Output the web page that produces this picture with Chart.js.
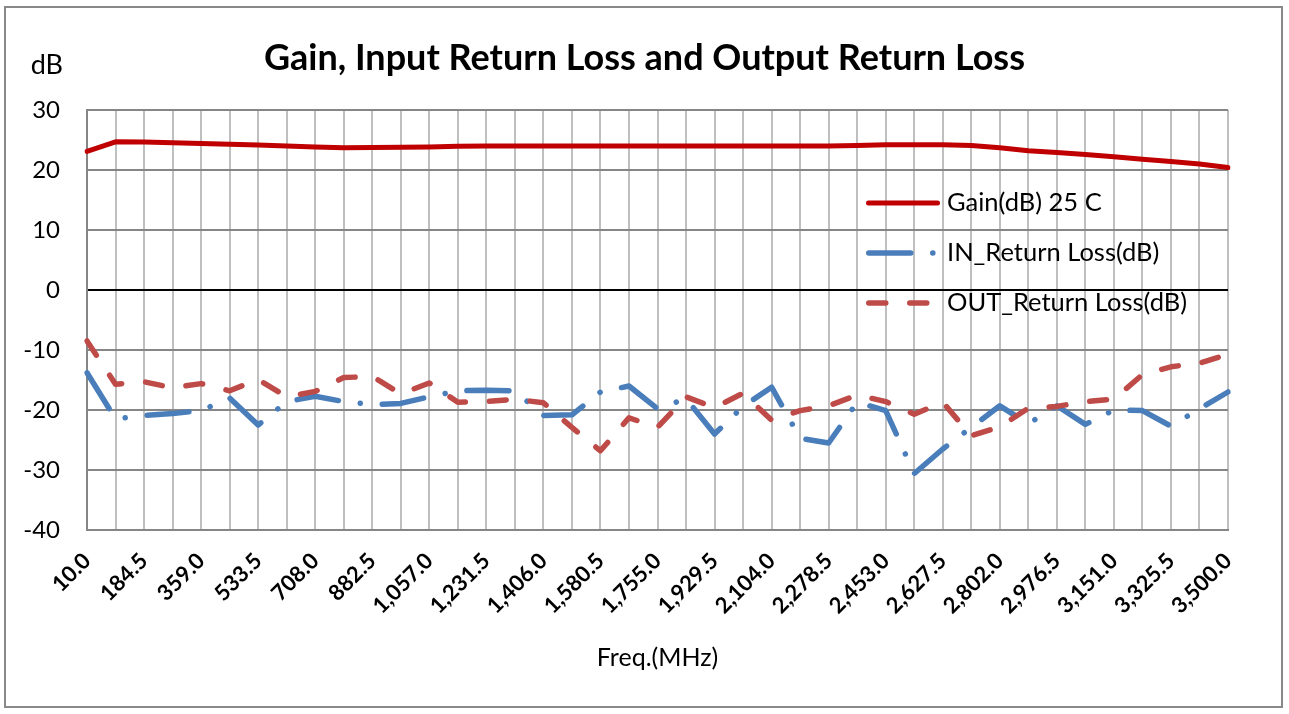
<!DOCTYPE html>
<html>
<head>
<meta charset="utf-8">
<script src="https://cdn.jsdelivr.net/npm/chart.js@4.4.1/dist/chart.umd.min.js"></script>
<style>
  html, body { margin: 0; padding: 0; background: #ffffff; }
  #wrap { width: 1289px; height: 714px; position: relative; }
  canvas { display: block; }
</style>
</head>
<body>
<div id="wrap"><canvas id="c" width="1289" height="714"></canvas></div>
<script>
// ---- Data ----
const freqMHz = [10.0, 97.25, 184.5, 271.75, 359.0, 446.25, 533.5, 620.75, 708.0, 795.25,
  882.5, 969.75, 1057.0, 1144.25, 1231.5, 1318.75, 1406.0, 1493.25, 1580.5, 1667.75,
  1755.0, 1842.25, 1929.5, 2016.75, 2104.0, 2191.25, 2278.5, 2365.75, 2453.0, 2540.25,
  2627.5, 2714.75, 2802.0, 2889.25, 2976.5, 3063.75, 3151.0, 3238.25, 3325.5, 3412.75, 3500.0];

const gainDb = [23.1, 24.7, 24.65, 24.55, 24.4, 24.3, 24.15, 24.0, 23.85, 23.7,
  23.75, 23.8, 23.85, 23.95, 24.0, 24.0, 24.0, 24.0, 24.0, 24.0,
  24.0, 24.0, 24.0, 24.0, 24.0, 24.0, 24.0, 24.1, 24.2, 24.2,
  24.2, 24.1, 23.7, 23.2, 22.9, 22.6, 22.2, 21.8, 21.4, 21.0, 20.4];

const inReturnLossDb = [-13.8, -21.5, -20.9, -20.6, -20.1, -18.0, -22.5, -18.6, -17.7, -18.6,
  -19.1, -18.9, -17.8, -16.8, -16.7, -16.8, -20.9, -20.8, -17.0, -16.0,
  -19.8, -18.1, -24.0, -19.4, -16.2, -24.7, -25.5, -18.7, -20.1, -30.6,
  -26.5, -22.9, -19.3, -22.3, -19.3, -22.4, -20.0, -20.1, -22.7, -19.8, -17.0];

const outReturnLossDb = [-8.5, -15.7, -15.3, -16.3, -15.6, -16.8, -14.9, -17.8, -16.9, -14.6,
  -14.4, -17.3, -15.5, -18.7, -18.6, -18.2, -18.8, -22.9, -26.8, -21.3,
  -22.9, -17.8, -19.6, -17.2, -21.7, -20.1, -19.3, -17.5, -18.6, -20.7,
  -18.7, -24.3, -22.8, -19.7, -19.4, -18.6, -18.2, -14.1, -12.8, -12.2, -10.7];

const seriesNames = ['Gain(dB) 25 C', 'IN_Return Loss(dB)', 'OUT_Return Loss(dB)'];
const chartTitle = 'Gain, Input Return Loss and Output Return Loss';
const xAxisTitle = 'Freq.(MHz)';
const yUnitLabel = 'dB';
const yMin = -40, yMax = 30, yStep = 10;

// ---- Helpers ----
const FONT = 'Lato, "Open Sans", "DejaVu Sans", sans-serif';
function fmtFreq(v) {
  return v.toLocaleString('en-US', { minimumFractionDigits: 1, maximumFractionDigits: 1 });
}

const framePlugin = {
  id: 'frame',
  beforeDraw(chart) {
    const ctx = chart.ctx;
    ctx.save();
    ctx.fillStyle = '#ffffff';
    ctx.fillRect(0, 0, chart.width, chart.height);
    ctx.strokeStyle = '#898989';
    ctx.lineWidth = 2;
    ctx.strokeRect(5, 7, 1277, 700);
    ctx.restore();
  },
  afterDraw(chart) {
    const ctx = chart.ctx;
    ctx.save();
    // unit label
    ctx.font = '27px ' + FONT;
    ctx.fillStyle = '#000';
    ctx.textAlign = 'right';
    ctx.textBaseline = 'middle';
    ctx.fillText(yUnitLabel, 63, 65);
    // legend inside plot area
    const rows = [203, 253, 303];
    chart.data.datasets.forEach((ds, i) => {
      const y = rows[i];
      const w = ds.borderWidth;
      ctx.beginPath();
      ctx.setLineDash(ds.borderDash || []);
      ctx.lineCap = 'round';
      ctx.lineWidth = w;
      ctx.strokeStyle = ds.borderColor;
      ctx.moveTo(866 + w / 2, y);
      ctx.lineTo(940 - w / 2, y);
      ctx.stroke();
      ctx.setLineDash([]);
      ctx.font = '25.5px ' + FONT;
      ctx.fillStyle = '#000';
      ctx.textAlign = 'left';
      ctx.textBaseline = 'middle';
      ctx.fillText(ds.label, 947, y);
    });
    ctx.restore();
  }
};

new Chart(document.getElementById('c'), {
  type: 'line',
  data: {
    labels: freqMHz,
    datasets: [
      {
        label: seriesNames[0], data: gainDb, borderColor: '#c00000', borderWidth: 5,
        pointRadius: 0, tension: 0, borderJoinStyle: 'round', borderCapStyle: 'round', order: 2
      },
      {
        label: seriesNames[1], data: inReturnLossDb, borderColor: '#4a7ebb', borderWidth: 5.5,
        borderDash: [42, 22, 0.1, 22], pointRadius: 0, tension: 0,
        borderJoinStyle: 'round', borderCapStyle: 'round', order: 1
      },
      {
        label: seriesNames[2], data: outReturnLossDb, borderColor: '#be4b48', borderWidth: 5.5,
        borderDash: [17, 24], pointRadius: 0, tension: 0,
        borderJoinStyle: 'round', borderCapStyle: 'round', order: 0
      }
    ]
  },
  options: {
    responsive: false,
    animation: false,
    devicePixelRatio: 1,
    events: [],
    layout: { padding: { top: 10, left: 0, right: 0, bottom: 8 } },
    plugins: {
      legend: { display: false },
      tooltip: { enabled: false },
      title: {
        display: true, text: chartTitle, color: '#000',
        font: { family: FONT, size: 36, weight: 'bold', lineHeight: 1.2 },
        padding: { top: 26.4, bottom: 30.4 }
      }
    },
    scales: {
      x: {
        type: 'category',
        offset: false,
        afterFit(scale) { scale.height = 176; },
        grid: { color: '#bfbfbf', lineWidth: 2, drawTicks: false },
        border: { color: '#868686', width: 2 },
        ticks: {
          autoSkip: false, maxRotation: 45, minRotation: 45, padding: 18,
          color: '#000', font: { family: FONT, size: 22, weight: 'bold' },
          callback: (v, i) => (i % 2 === 0 ? fmtFreq(freqMHz[i]) : '')
        },
        title: {
          display: true, text: xAxisTitle, color: '#000',
          font: { family: FONT, size: 25 }, padding: { top: 0, bottom: 33 }
        }
      },
      y: {
        min: yMin, max: yMax,
        afterFit(scale) { scale.width = 87; },
        grid: {
          color: (c) => (c.tick && c.tick.value === 0 ? '#000000' : '#868686'),
          lineWidth: 2, drawTicks: false
        },
        border: { color: '#868686', width: 2 },
        ticks: {
          stepSize: yStep, padding: 27, color: '#000',
          font: { family: FONT, size: 24 }
        }
      },
      yRightMargin: {
        position: 'right',
        min: yMin, max: yMax,
        afterFit(scale) { scale.width = 61; },
        grid: { display: false, drawTicks: false },
        border: { display: false },
        ticks: { display: false }
      }
    }
  },
  plugins: [framePlugin]
});
</script>
</body>
</html>
